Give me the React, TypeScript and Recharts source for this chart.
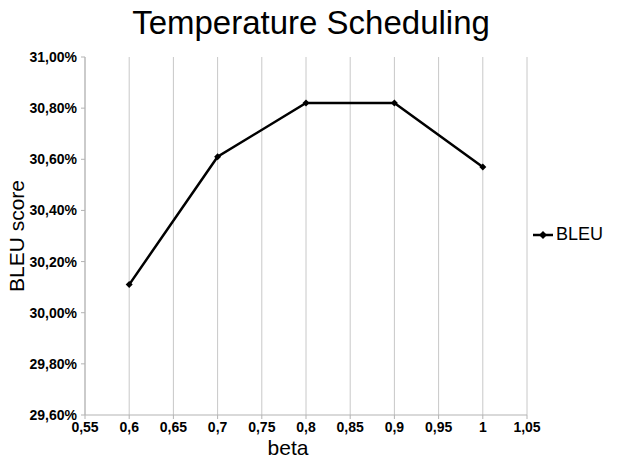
import React from 'react';
import { LineChart, Line, XAxis, YAxis, CartesianGrid, Legend, Label } from 'recharts';

const betas = [0.6, 0.7, 0.8, 0.9, 1.0];
const bleu = [30.11, 30.61, 30.82, 30.82, 30.57];
const xTicks = [0.55, 0.6, 0.65, 0.7, 0.75, 0.8, 0.85, 0.9, 0.95, 1.0, 1.05];
const yTicks = [29.6, 29.8, 30.0, 30.2, 30.4, 30.6, 30.8, 31.0];

const data = betas.map((b, i) => ({ beta: b, BLEU: bleu[i] }));

const font = '"Liberation Sans", Arial, sans-serif';
const gridColor = '#c8c8c8';

const fmtX = (v: number) => String(Math.round(v * 100) / 100).replace('.', ',');
const fmtY = (v: number) => v.toFixed(2).replace('.', ',') + '%';

const Diamond = (props: any) => {
  const { cx, cy } = props;
  if (cx == null || cy == null) return null;
  const r = 3.5;
  return <path d={`M${cx},${cy - r}L${cx + r},${cy}L${cx},${cy + r}L${cx - r},${cy}Z`} fill="#000" />;
};

const LegendContent = () => (
  <div style={{ display: 'flex', alignItems: 'center', fontFamily: font, fontSize: 18, color: '#000' }}>
    <svg width={22} height={12} style={{ marginRight: 2 }}>
      <line x1={1} y1={6} x2={21} y2={6} stroke="#000" strokeWidth={2.5} />
      <path d="M11,2L15,6L11,10L7,6Z" fill="#000" />
    </svg>
    <span>BLEU</span>
  </div>
);

export default function App() {
  return (
    <div style={{ position: 'absolute', left: 0, top: 0, width: 641, height: 459, background: '#fff' }}>
      <div
        style={{
          position: 'absolute',
          left: 0,
          top: 4,
          width: 622,
          textAlign: 'center',
          fontFamily: font,
          fontSize: 33,
          color: '#000',
        }}
      >
        Temperature Scheduling
      </div>
      <LineChart width={641} height={459} data={data} margin={{ top: 57, right: 114, bottom: 0, left: 0 }}>
        <CartesianGrid horizontal={false} stroke={gridColor} strokeWidth={1} />
        <XAxis
          dataKey="beta"
          type="number"
          domain={[0.55, 1.05]}
          ticks={xTicks}
          tickFormatter={fmtX}
          interval={0}
          height={44}
          tickSize={4}
          tickMargin={3}
          stroke="#b3b3b3"
          tick={{ fill: '#000', fontFamily: font, fontSize: 14, fontWeight: 'bold' }}
        >
          <Label value="beta" position="insideBottom" offset={4} dx={-18} style={{ fontFamily: font, fontSize: 21, fill: '#000' }} />
        </XAxis>
        <YAxis
          type="number"
          domain={[29.6, 31.0]}
          ticks={yTicks}
          tickFormatter={fmtY}
          interval={0}
          width={85}
          tickSize={4}
          tickMargin={4}
          stroke="#b3b3b3"
          tick={{ fill: '#000', fontFamily: font, fontSize: 14, fontWeight: 'bold' }}
        >
          <Label
            value="BLEU score"
            angle={-90}
            position="insideLeft"
            offset={17}
            style={{ fontFamily: font, fontSize: 21, fill: '#000', textAnchor: 'middle' }}
          />
        </YAxis>
        <Legend
          layout="vertical"
          align="center"
          verticalAlign="middle"
          content={<LegendContent />}
          wrapperStyle={{ left: 532, top: 224, width: 100 }}
        />
        <Line
          type="linear"
          dataKey="BLEU"
          stroke="#000"
          strokeWidth={2.5}
          dot={<Diamond />}
          activeDot={false}
          isAnimationActive={false}
        />
      </LineChart>
    </div>
  );
}
